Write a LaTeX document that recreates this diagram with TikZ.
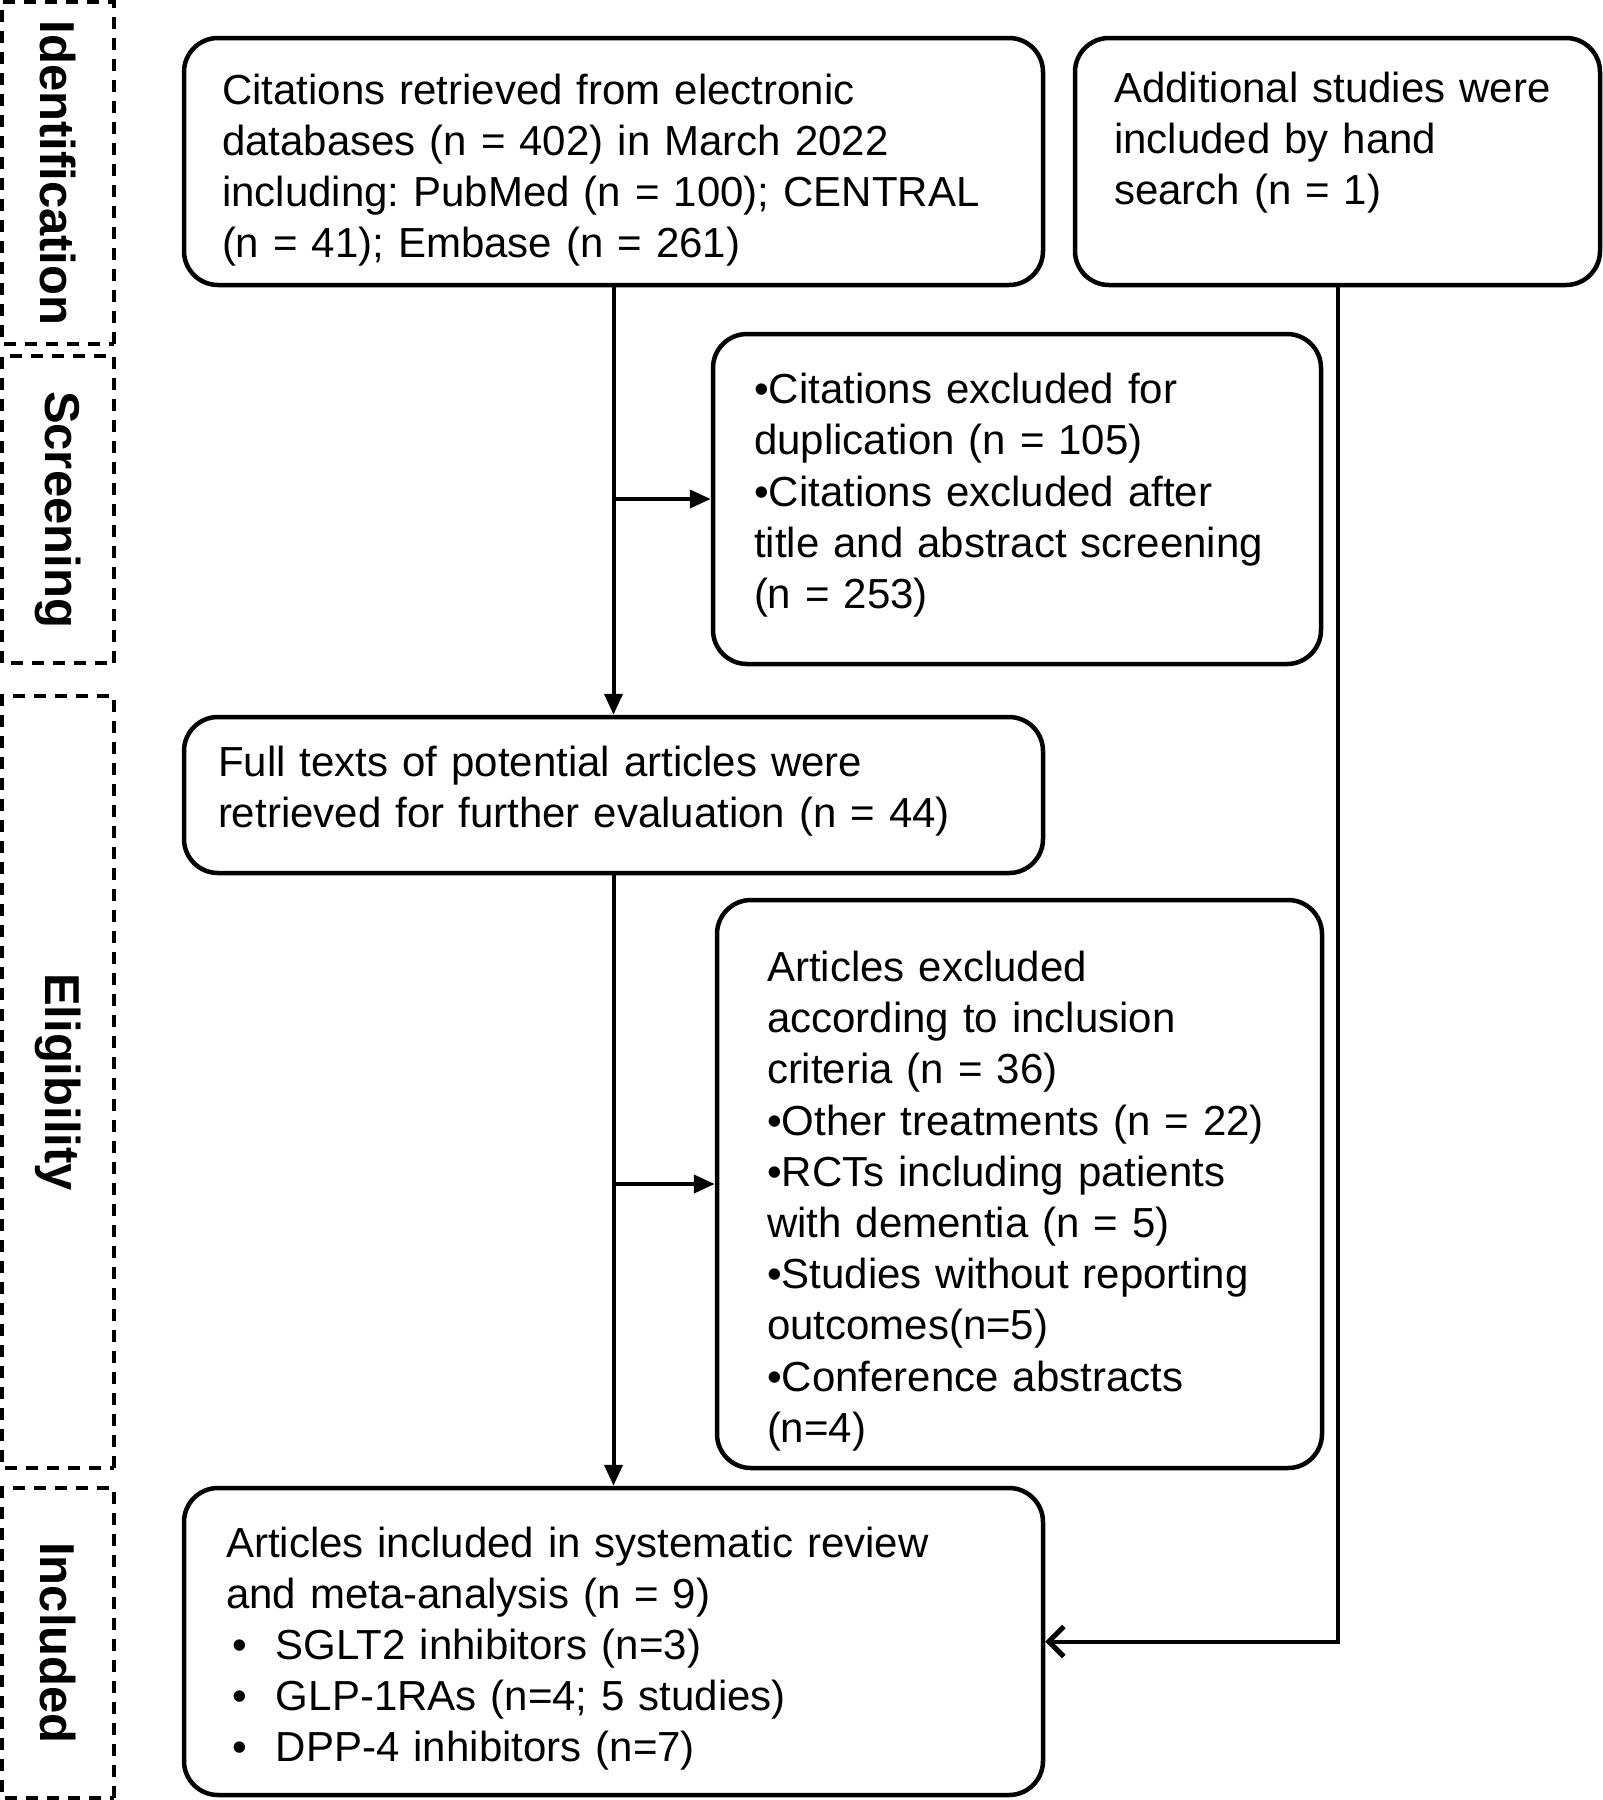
\documentclass[tikz,border=0pt]{standalone}
\usepackage{fontspec}
\setmainfont{Liberation Sans}
\usetikzlibrary{arrows.meta}

\tikzset{
    flowbox/.style={draw,line width=4.5pt,rounded corners=34pt,align=left,inner ysep=0pt,
        font=\fontsize{42pt}{51.2pt}\selectfont\frenchspacing},
    stagebox/.style={draw,dash pattern=on 12pt off 9pt,line width=3.2pt,rotate=-90,
        minimum height=112pt,inner sep=0pt,font=\fontsize{49pt}{55pt}\selectfont\bfseries},
    flow/.style={line width=4pt,-{Triangle[length=21pt,width=18pt]}},
    sidearrow/.style={line width=4pt,-{Straight Barb[length=15pt,width=30pt,line width=5pt]}}
}

\begin{document}
\begin{tikzpicture}[x=1pt,y=-1pt]
        \useasboundingbox(0,0)rectangle(1603,1800);
        % stages
        \node[stagebox,minimum width=342pt](ident)at(58,173){Identification};
        \node[stagebox,minimum width=307pt](screen)at(58,509.5){Screening};
        \node[stagebox,minimum width=772pt](elig)at(58,1082){Eligibility};
        \node[stagebox,minimum width=310pt](incl)at(58,1643){Included};
        % boxes
        \node[flowbox,minimum width=859pt,minimum height=247pt,inner xsep=38pt,text width=783pt,text height=47.5pt](search)at(613.5,161.5){Citations retrieved from electronic\\databases (n = 402) in March 2022\\including: PubMed (n = 100); CENTRAL\\(n = 41); Embase (n = 261)};
        \node[flowbox,minimum width=525pt,minimum height=247pt,inner xsep=39pt,text width=447pt,text height=51pt](hand)at(1337.5,161.5){Additional studies were\\included by hand\\search (n = 1)\\\strut};
        \node[flowbox,minimum width=608pt,minimum height=330pt,inner xsep=41pt,text width=526pt,text depth=221pt](dupl)at(1017,499){•Citations excluded for\\duplication (n = 105)\\•Citations excluded after\\title and abstract screening\\(n = 253)};
        \node[flowbox,minimum width=859pt,minimum height=156pt,inner xsep=34pt,text width=791pt,text depth=67pt](fulltext)at(613.5,795){Full texts of potential articles were\\retrieved for further evaluation (n = 44)};
        \node[flowbox,minimum width=605pt,minimum height=568pt,inner xsep=50pt,text width=505pt,text height=64.5pt](excl)at(1019.5,1184){Articles excluded\\according to inclusion\\criteria (n = 36)\\•Other treatments (n = 22)\\•RCTs including patients\\with dementia (n = 5)\\•Studies without reporting\\outcomes(n=5)\\•Conference abstracts\\(n=4)};
        \node[flowbox,minimum width=859pt,minimum height=307pt,inner xsep=42pt,text width=775pt,text height=44.5pt](final)at(613.5,1641.5){Articles included in systematic review\\and meta-analysis (n = 9)\\\makebox[50pt][l]{\hspace{6pt}•}SGLT2 inhibitors (n=3)\\\makebox[50pt][l]{\hspace{6pt}•}GLP-1RAs (n=4; 5 studies)\\\makebox[50pt][l]{\hspace{6pt}•}DPP-4 inhibitors (n=7)};
        % arrows
        \draw[flow](search.south)--(fulltext.north);
        \draw[flow](search.south|-dupl.west)--(dupl.west);
        \draw[flow](fulltext.south)--(final.north);
        \draw[flow](fulltext.south|-excl.west)--(excl.west);
        \draw[sidearrow](hand.south)|-(final.east);
\end{tikzpicture}
\end{document}
